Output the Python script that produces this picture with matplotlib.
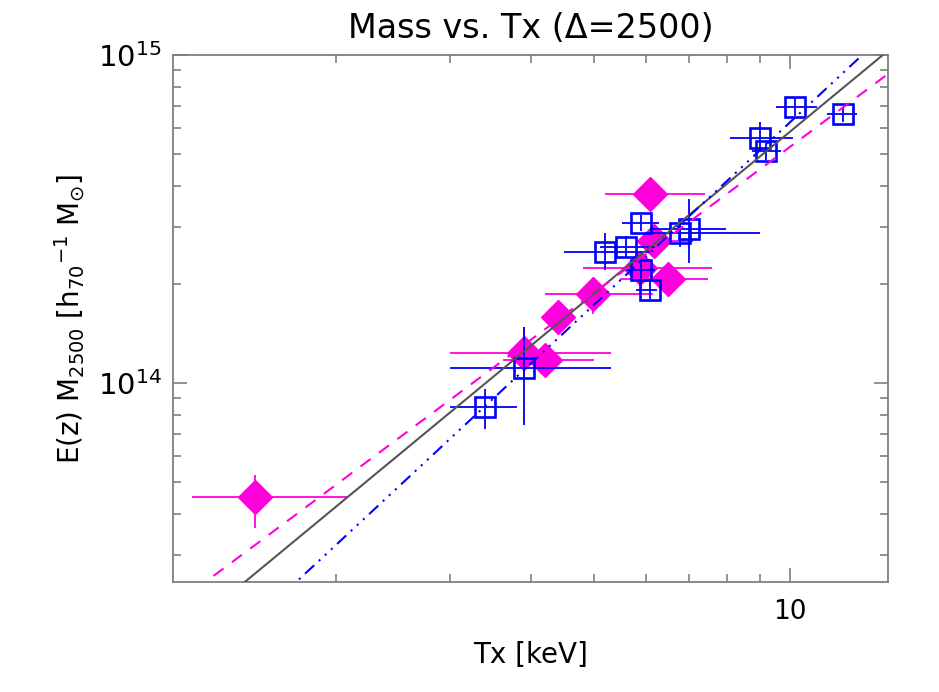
import numpy as np
import matplotlib
matplotlib.use("Agg")
import matplotlib.pyplot as plt
from matplotlib.ticker import LogLocator, NullFormatter, FixedLocator, FixedFormatter

# blue squares : Tx [keV], mass [1e14], asymmetric errors
sq_t = [3.40, 3.90, 5.19, 5.59, 5.90, 5.90, 6.09, 6.77, 6.99, 8.99, 9.19, 10.18, 12.06]
sq_tlo = [3.00, 3.00, 4.49, 5.10, 5.51, 5.51, 5.80, 6.00, 6.09, 8.09, 8.75, 9.52, 11.40]
sq_thi = [3.80, 5.30, 6.09, 6.20, 6.29, 6.20, 6.25, 8.99, 7.97, 10.10, 9.70, 11.00, 12.70]
sq_m = [0.845, 1.111, 2.51, 2.60, 3.07, 2.21, 1.92, 2.87, 2.95, 5.58, 5.10, 6.94, 6.61]
sq_mlo = [0.724, 0.745, 2.21, 2.40, 2.90, 2.05, 1.80, 2.60, 2.32, 5.10, 4.80, 6.50, 6.25]
sq_mhi = [0.959, 1.48, 2.87, 2.80, 3.25, 2.40, 2.05, 3.10, 3.64, 6.25, 5.40, 7.40, 6.94]

# magenta diamonds
dm_t = [1.503, 3.90, 4.20, 4.40, 4.98, 5.88, 6.18, 6.09, 6.49]
dm_tlo = [1.202, 3.00, 3.62, 4.15, 4.20, 4.80, 5.88, 5.19, 5.48]
dm_thi = [2.089, 5.30, 4.99, 4.65, 6.15, 7.59, 7.09, 7.40, 7.48]
dm_m = [0.449, 1.235, 1.175, 1.589, 1.867, 2.24, 2.71, 3.77, 2.08]
dm_mlo = [0.361, 1.02, 1.08, 1.48, 1.62, 2.05, 2.55, 3.55, 1.95]
dm_mhi = [0.524, 1.48, 1.28, 1.70, 2.09, 2.45, 2.90, 4.00, 2.20]

# power-law fits: M = norm * (T/6)^slope  [1e14]
fit_norm = {"all": 2.53, "magenta": 2.47, "blue": 2.43}
fit_slope = {"all": 1.637, "magenta": 1.475, "blue": 1.845}

magenta = "#ff00dc"
blue = "#0000ff"
axcol = "#7f7f7f"

fig = plt.figure(figsize=(9.39, 6.92), dpi=100)
ax = fig.add_axes([0.1842, 0.159, 0.7615, 0.7615])
ax.set_xscale("log")
ax.set_yscale("log")


def errs(v, lo, hi, scale=1.0):
    v = np.array(v) * scale
    return v, np.vstack([v - np.array(lo) * scale, np.array(hi) * scale - v])


t, terr = errs(dm_t, dm_tlo, dm_thi)
m, merr = errs(dm_m, dm_mlo, dm_mhi, 1e14)
ax.errorbar(t, m, xerr=terr, yerr=merr, fmt="D", ms=17, mfc=magenta, mec=magenta,
            ecolor=magenta, elinewidth=1.3, capsize=0, zorder=2)

t, terr = errs(sq_t, sq_tlo, sq_thi)
m, merr = errs(sq_m, sq_mlo, sq_mhi, 1e14)
ax.errorbar(t, m, xerr=terr, yerr=merr, fmt="s", ms=15, mfc="none", mec=blue, mew=1.9,
            ecolor=blue, elinewidth=1.3, capsize=0, zorder=3)

tt = np.logspace(0, 1.3, 200)
ax.plot(tt, fit_norm["all"] * 1e14 * (tt / 6) ** fit_slope["all"], color="#555555", lw=1.5, zorder=4)
ax.plot(tt, fit_norm["magenta"] * 1e14 * (tt / 6) ** fit_slope["magenta"], color=magenta, lw=1.5,
        dashes=(6, 5), zorder=4)
ax.plot(tt, fit_norm["blue"] * 1e14 * (tt / 6) ** fit_slope["blue"], color=blue, lw=1.5,
        dashes=(6, 3, 1, 3, 1, 3, 1, 3), zorder=4)

ax.set_xlim(1.124, 14.15)
ax.set_ylim(2.474e13, 1e15)

ax.xaxis.set_major_locator(FixedLocator([10]))
ax.xaxis.set_major_formatter(FixedFormatter(["10"]))
ax.xaxis.set_minor_locator(FixedLocator([2, 3, 4, 5, 6, 7, 8, 9]))
ax.xaxis.set_minor_formatter(NullFormatter())
ax.yaxis.set_major_locator(LogLocator(base=10, numticks=10))
ax.yaxis.set_minor_locator(LogLocator(base=10, subs=np.arange(2, 10), numticks=20))
ax.yaxis.set_minor_formatter(NullFormatter())

for s in ax.spines.values():
    s.set_color(axcol)
    s.set_linewidth(1.3)
ax.tick_params(which="both", direction="in", top=True, right=True, color=axcol, width=1.2,
               labelsize=19, labelcolor="black")
ax.tick_params(which="major", length=10, pad=12)
ax.tick_params(which="minor", length=6)
ax.tick_params(axis="y", which="major", labelsize=21, pad=8)

ax.set_xlabel("Tx [keV]", fontsize=20, labelpad=12)
ax.set_ylabel(r"E(z) M$_{2500}$ [h$_{70}$$^{-1}$ M$_{\odot}$]", fontsize=20, labelpad=8)
ax.set_title("Mass vs. Tx (\u0394=2500)", fontsize=24, pad=12)

fig.savefig("out.png", dpi=100)
